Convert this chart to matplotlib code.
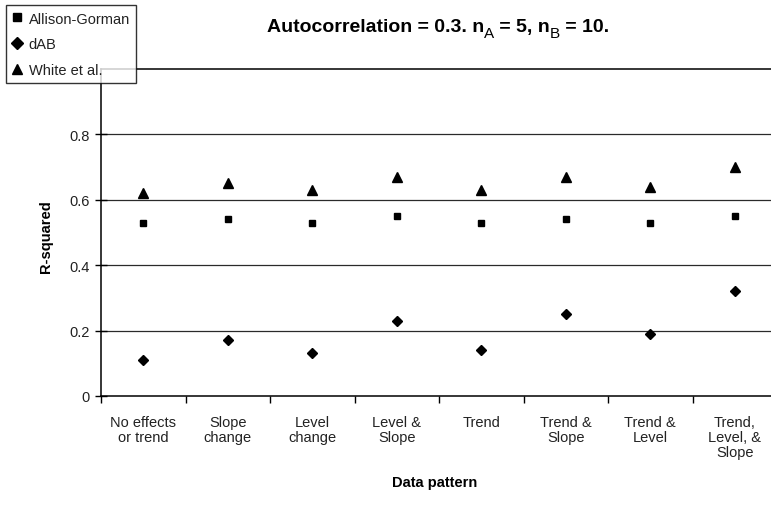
import matplotlib.pyplot as plt
import numpy as np

plt.rcParams["font.family"] = ["Liberation Sans", "DejaVu Sans"]

patterns = [
    "No effects\nor trend",
    "Slope\nchange",
    "Level\nchange",
    "Level &\nSlope",
    "Trend",
    "Trend &\nSlope",
    "Trend &\nLevel",
    "Trend,\nLevel, &\nSlope",
]
allison_gorman = [0.53, 0.54, 0.53, 0.55, 0.53, 0.54, 0.53, 0.55]
dab = [0.11, 0.17, 0.13, 0.23, 0.14, 0.25, 0.19, 0.32]
white = [0.62, 0.65, 0.63, 0.67, 0.63, 0.67, 0.64, 0.70]
y_ticks = [0, 0.2, 0.4, 0.6, 0.8]
y_labels = ["0", "0.2", "0.4", "0.6", "0.8"]

# title pieces: (text, weight, size, drop in px)
title_parts = [
    ("Autocorrelation = 0.3. n", "bold", 14, 0),
    ("A", "normal", 11, 6),
    (" = 5, n", "bold", 14, 0),
    ("B", "normal", 11, 6),
    (" = 10.", "bold", 14, 0),
]

W, H = 771, 506
fig = plt.figure(figsize=(W / 100, H / 100), dpi=100)
# plot area runs slightly past the right edge, as in the source image
ax = fig.add_axes([101 / W, 1 - 397 / H, 676 / W, 327 / H])

x = np.arange(len(patterns))
for v in y_ticks[1:]:
    ax.axhline(v, color="#2a2a2a", linewidth=0.9, zorder=1)

ax.plot(x, allison_gorman, "s", color="black", markersize=5, linestyle="none",
        label="Allison-Gorman", zorder=3)
ax.plot(x, dab, "D", color="black", markersize=5, linestyle="none",
        label="dAB", zorder=3)
ax.plot(x, white, "^", color="black", markersize=6.5, linestyle="none",
        label="White et al.", zorder=3)

ax.set_xlim(-0.5, len(patterns) - 0.5)
ax.set_ylim(0, 1.0)
ax.set_yticks(y_ticks)
ax.set_yticklabels(y_labels)
ax.set_xticks(x)
ax.set_xticklabels(patterns, linespacing=1.05)
ax.set_xticks(np.arange(len(patterns) + 1) - 0.5, minor=True)
ax.tick_params(axis="x", which="major", length=0, pad=14, labelsize=10.5,
               labelcolor="#222222")
ax.tick_params(axis="x", which="minor", length=5, width=1, direction="out")
ax.tick_params(axis="y", length=8, width=1, direction="inout", labelsize=10.5,
               pad=4, labelcolor="#222222")

for side in ["left", "bottom", "top"]:
    ax.spines[side].set_linewidth(1.1)
ax.spines["right"].set_visible(False)

ax.set_ylabel("R-squared", fontweight="bold", fontsize=10.5)
ax.yaxis.set_label_coords((53 - 101) / 676, 0.49)
fig.text(435 / W, 1 - 483 / H, "Data pattern", ha="center", va="center",
         fontweight="bold", fontsize=10.5)

# title: lay the pieces out left to right, then centre the whole line
renderer = fig.canvas.get_renderer()
base_y = 32
title_texts = []
x_pos = 0.0
for txt, weight, size, drop in title_parts:
    t = fig.text(x_pos / W, 1 - (base_y + drop) / H, txt, ha="left",
                 va="baseline", fontweight=weight, fontsize=size)
    title_texts.append((t, x_pos, drop))
    x_pos += t.get_window_extent(renderer=renderer).width
start = 438 - x_pos / 2
for t, off, drop in title_texts:
    t.set_position(((start + off) / W, 1 - (base_y + drop) / H))

leg = fig.legend(loc="upper left", bbox_to_anchor=(6 / W, 1 - 6 / H),
                 fontsize=10.5, frameon=True, fancybox=False, handlelength=0.6,
                 handletextpad=0.5, borderpad=0.45, labelspacing=0.8,
                 borderaxespad=0, markerscale=1.15)
leg.get_frame().set_edgecolor("black")
leg.get_frame().set_linewidth(1)
leg.set_zorder(10)
for t in leg.get_texts():
    t.set_color("#222222")

fig.savefig("out.png", dpi=100)
